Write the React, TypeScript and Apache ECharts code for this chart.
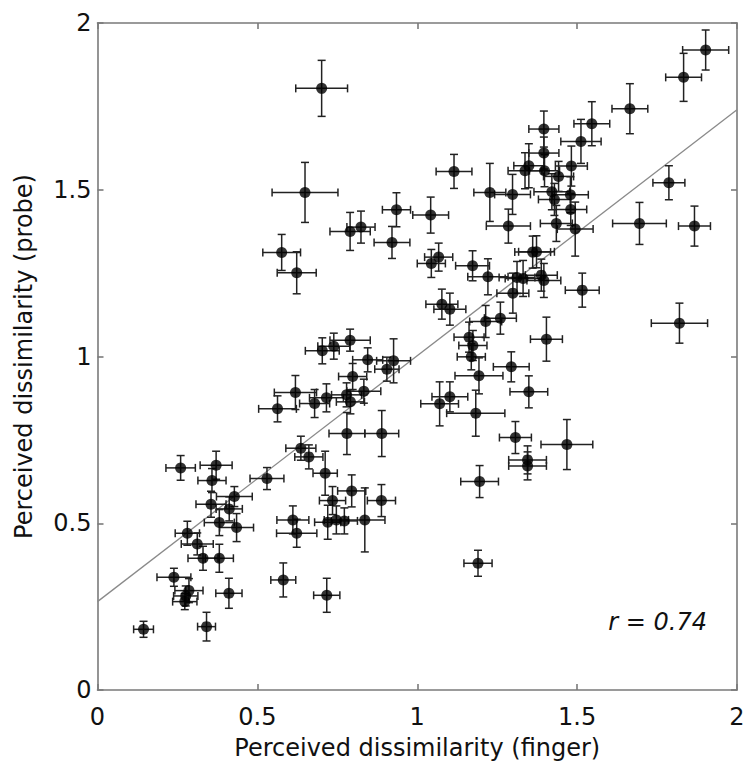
import React, { useEffect, useRef } from "react";
import * as echarts from "echarts";

// Perceived dissimilarity (finger) – x values
const xVals = [
  0.144, 0.341, 0.239, 0.286, 0.276, 0.273, 0.411, 0.26, 0.371, 0.358,
  0.428, 0.355, 0.412, 0.381, 0.435, 0.281, 0.312, 0.33, 0.381, 0.53,
  0.636, 0.661, 0.712, 0.735, 0.795, 0.888, 0.72, 0.747, 0.772, 0.836,
  0.611, 0.623, 0.581, 0.717, 0.563, 0.619, 0.679, 0.716, 0.779, 0.791,
  0.833, 0.798, 0.845, 0.905, 0.926, 0.703, 0.739, 0.79, 0.78, 0.889,
  0.576, 0.623, 0.649, 0.701, 0.79, 0.824, 0.921, 0.935, 1.042, 1.115,
  1.067, 1.044, 1.173, 1.221, 1.312, 1.331, 1.388, 1.396, 1.299, 1.077,
  1.102, 1.214, 1.26, 1.82, 1.516, 1.162, 1.174, 1.169, 1.294, 1.193,
  1.349, 1.102, 1.07, 1.183, 1.307, 1.468, 1.345, 1.345, 1.195, 1.19,
  1.404, 1.227, 1.298, 1.337, 1.349, 1.396, 1.396, 1.398, 1.482, 1.442,
  1.421, 1.429, 1.479, 1.48, 1.435, 1.494, 1.285, 1.361, 1.373, 1.512,
  1.546, 1.665, 1.833, 1.902, 1.787, 1.695, 1.867,
];

// Perceived dissimilarity (probe) – y values
const yVals = [
  0.182, 0.19, 0.338, 0.298, 0.282, 0.265, 0.29, 0.666, 0.674, 0.628,
  0.58, 0.557, 0.543, 0.502, 0.487, 0.47, 0.438, 0.395, 0.395, 0.634,
  0.725, 0.699, 0.65, 0.568, 0.597, 0.568, 0.503, 0.51, 0.507, 0.51,
  0.51, 0.47, 0.33, 0.284, 0.843, 0.892, 0.859, 0.876, 0.885, 0.864,
  0.896, 0.94, 0.99, 0.962, 0.987, 1.017, 1.031, 1.049, 0.769, 0.769,
  1.312, 1.251, 1.492, 1.804, 1.375, 1.388, 1.342, 1.44, 1.424, 1.555,
  1.298, 1.279, 1.272, 1.239, 1.237, 1.234, 1.244, 1.228, 1.19, 1.157,
  1.142, 1.105, 1.115, 1.1, 1.199, 1.058, 1.033, 0.999, 0.969, 0.942,
  0.894, 0.879, 0.858, 0.83, 0.757, 0.736, 0.69, 0.672, 0.625, 0.38,
  1.052, 1.492, 1.486, 1.557, 1.572, 1.682, 1.61, 1.557, 1.571, 1.54,
  1.494, 1.471, 1.485, 1.441, 1.399, 1.382, 1.391, 1.313, 1.314, 1.645,
  1.698, 1.743, 1.837, 1.919, 1.521, 1.399, 1.391,
];

// horizontal error (half width)
const xErr = [
  0.031, 0.028, 0.053, 0.044, 0.038, 0.038, 0.041, 0.046, 0.05, 0.044,
  0.056, 0.047, 0.041, 0.047, 0.053, 0.038, 0.05, 0.047, 0.044, 0.053,
  0.047, 0.044, 0.038, 0.041, 0.044, 0.044, 0.041, 0.038, 0.041, 0.063,
  0.05, 0.063, 0.039, 0.041, 0.059, 0.066, 0.047, 0.053, 0.047, 0.044,
  0.053, 0.044, 0.047, 0.038, 0.053, 0.053, 0.05, 0.063, 0.056, 0.053,
  0.059, 0.061, 0.103, 0.081, 0.063, 0.044, 0.056, 0.044, 0.056, 0.056,
  0.044, 0.044, 0.053, 0.063, 0.056, 0.056, 0.05, 0.053, 0.05, 0.05,
  0.05, 0.05, 0.05, 0.088, 0.053, 0.047, 0.044, 0.044, 0.056, 0.075,
  0.059, 0.056, 0.059, 0.091, 0.05, 0.081, 0.059, 0.059, 0.059, 0.044,
  0.05, 0.05, 0.056, 0.053, 0.047, 0.047, 0.047, 0.047, 0.05, 0.047,
  0.056, 0.05, 0.056, 0.05, 0.05, 0.056, 0.069, 0.056, 0.056, 0.063,
  0.056, 0.056, 0.056, 0.072, 0.05, 0.084, 0.05,
];

// vertical error (half height)
const yErr = [
  0.024, 0.043, 0.027, 0.036, 0.03, 0.024, 0.045, 0.037, 0.042, 0.036,
  0.03, 0.039, 0.036, 0.039, 0.042, 0.036, 0.033, 0.036, 0.042, 0.033,
  0.036, 0.036, 0.066, 0.042, 0.048, 0.048, 0.051, 0.042, 0.039, 0.096,
  0.042, 0.042, 0.051, 0.051, 0.039, 0.051, 0.042, 0.042, 0.036, 0.036,
  0.036, 0.039, 0.036, 0.036, 0.066, 0.039, 0.039, 0.033, 0.063, 0.069,
  0.054, 0.063, 0.09, 0.084, 0.057, 0.048, 0.048, 0.051, 0.054, 0.051,
  0.042, 0.042, 0.045, 0.054, 0.048, 0.054, 0.048, 0.051, 0.06, 0.045,
  0.048, 0.048, 0.048, 0.06, 0.051, 0.045, 0.045, 0.039, 0.045, 0.054,
  0.048, 0.045, 0.066, 0.069, 0.048, 0.075, 0.042, 0.042, 0.048, 0.039,
  0.066, 0.087, 0.06, 0.054, 0.066, 0.054, 0.048, 0.048, 0.06, 0.045,
  0.054, 0.048, 0.054, 0.048, 0.054, 0.081, 0.051, 0.048, 0.048, 0.066,
  0.066, 0.075, 0.072, 0.06, 0.051, 0.063, 0.06,
];

// regression line end points
const fitX = [0, 2];
const fitY = [0.265, 1.74];

const axisTicks = [0, 0.5, 1, 1.5, 2];
const rText = "r = 0.74";
const xTitle = "Perceived dissimilarity (finger)";
const yTitle = "Perceived dissimilarity (probe)";

const FONT = "'DejaVu Sans', 'Liberation Sans', Arial, sans-serif";

export default function App() {
  const ref = useRef<HTMLDivElement>(null);

  useEffect(() => {
    if (!ref.current) return;
    const chart = echarts.init(ref.current, undefined, { renderer: "svg" });

    const points = xVals.map((x, i) => [x, yVals[i]]);
    const errData = xVals.map((x, i) => [x, yVals[i], xErr[i], yErr[i]]);
    const fitData = fitX.map((x, i) => [x, fitY[i]]);

    const axisLineStyle = { color: "#7a7a7a", width: 1.6 };
    const labelStyle = { color: "#111", fontSize: 24, fontFamily: FONT };

    const baseX = {
      type: "value" as const,
      min: 0,
      max: 2,
      interval: 0.5,
      splitLine: { show: false },
      axisLine: { show: true, onZero: false, lineStyle: axisLineStyle },
      axisTick: { show: true, inside: true, length: 6, lineStyle: axisLineStyle },
    };

    const cap = 4;

    const option: any = {
      animation: false,
      backgroundColor: "#fff",
      grid: { left: 97.5, right: 13, top: 23, bottom: 85, containLabel: false },
      xAxis: [
        {
          ...baseX,
          position: "bottom",
          axisLabel: {
            ...labelStyle,
            margin: 15,
            formatter: (v: number) => (axisTicks.includes(v) ? String(v) : ""),
          },
          name: xTitle,
          nameLocation: "middle",
          nameGap: 46,
          nameTextStyle: { color: "#111", fontSize: 24, fontFamily: FONT },
        },
        { ...baseX, position: "top", axisLabel: { show: false } },
      ],
      yAxis: [
        {
          ...baseX,
          position: "left",
          axisLabel: {
            ...labelStyle,
            margin: 6,
            formatter: (v: number) => (axisTicks.includes(v) ? String(v) : ""),
          },
          name: yTitle,
          nameLocation: "middle",
          nameGap: 62,
          nameTextStyle: { color: "#111", fontSize: 24, fontFamily: FONT },
        },
        { ...baseX, position: "right", axisLabel: { show: false } },
      ],
      series: [
        {
          type: "line",
          data: fitData,
          symbol: "none",
          lineStyle: { color: "#8a8a8a", width: 1.3 },
          z: 1,
          silent: true,
        },
        {
          type: "custom",
          data: errData,
          z: 2,
          silent: true,
          renderItem: (params: any, api: any) => {
            const x = api.value(0);
            const y = api.value(1);
            const ex = api.value(2);
            const ey = api.value(3);
            const l = api.coord([x - ex, y]);
            const r = api.coord([x + ex, y]);
            const t = api.coord([x, y + ey]);
            const b = api.coord([x, y - ey]);
            const style = { stroke: "#222", lineWidth: 1.5 };
            const mk = (x1: number, y1: number, x2: number, y2: number) => ({
              type: "line",
              shape: { x1, y1, x2, y2 },
              style,
            });
            return {
              type: "group",
              children: [
                mk(l[0], l[1], r[0], r[1]),
                mk(t[0], t[1], b[0], b[1]),
                mk(l[0], l[1] - cap, l[0], l[1] + cap),
                mk(r[0], r[1] - cap, r[0], r[1] + cap),
                mk(t[0] - cap, t[1], t[0] + cap, t[1]),
                mk(b[0] - cap, b[1], b[0] + cap, b[1]),
              ],
            };
          },
        },
        {
          type: "scatter",
          data: points,
          symbol: "circle",
          symbolSize: 11,
          itemStyle: { color: "#000" },
          z: 3,
          silent: true,
        },
      ],
      graphic: [
        {
          type: "text",
          right: 43,
          top: 610,
          style: {
            text: rText,
            fontSize: 24,
            fontStyle: "italic",
            fontFamily: FONT,
            fill: "#111",
          },
        },
      ],
    };

    chart.setOption(option);
    return () => chart.dispose();
  }, []);

  return (
    <div
      ref={ref}
      style={{ position: "fixed", left: 0, top: 0, width: 750, height: 775, background: "#fff" }}
    />
  );
}
